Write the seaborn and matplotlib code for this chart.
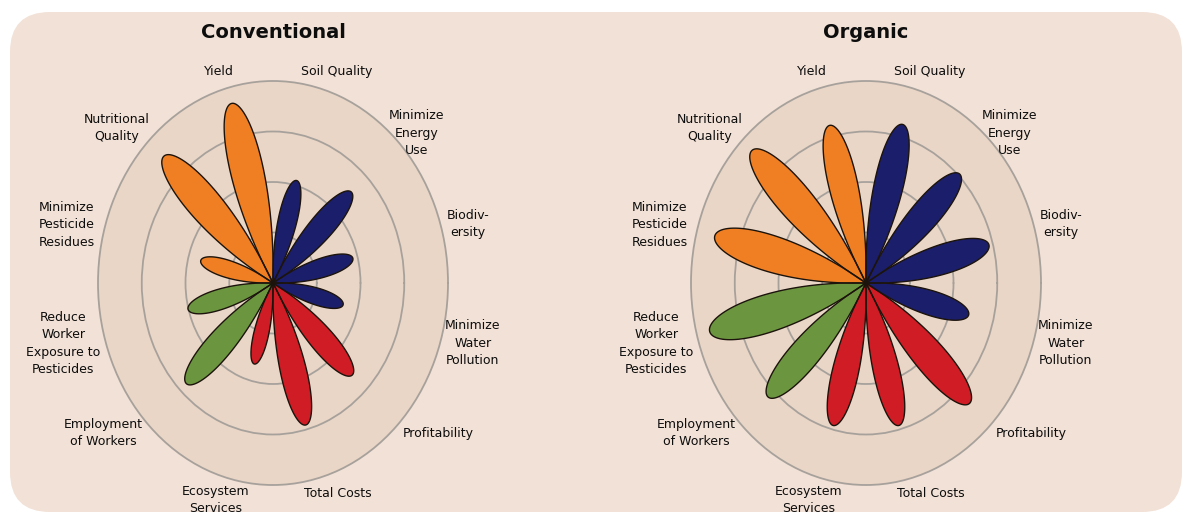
import numpy as np
import pandas as pd
import seaborn as sns
import matplotlib.pyplot as plt
from matplotlib.patches import FancyBboxPatch

# categories, clockwise starting from Yield (at 105 deg)
categories = ["Yield", "Soil Quality", "Minimize\nEnergy\nUse", "Biodiv-\nersity",
              "Minimize\nWater\nPollution", "Profitability", "Total Costs",
              "Ecosystem\nServices", "Employment\nof Workers",
              "Reduce\nWorker\nExposure to\nPesticides",
              "Minimize\nPesticide\nResidues", "Nutritional\nQuality"]
groups = ["production", "environment", "environment", "environment", "environment",
          "economic", "economic", "economic", "social", "social",
          "production", "production"]
conventional = [3.68, 2.10, 2.54, 1.89, 1.66, 2.57, 2.91, 1.66, 2.81, 2.01, 1.71, 3.54]
organic = [3.23, 3.25, 3.04, 2.91, 2.43, 3.36, 2.92, 2.92, 3.18, 3.70, 3.58, 3.70]
systems = ["Conventional", "Organic"]

group_colors = {"production": "#f07f24", "environment": "#1b1e6b",
                "economic": "#d01c25", "social": "#6b963f"}
BG = "#f2e1d6"
DISK = "#ead6c7"
RING = "#a7a19c"

# label placement (angle deg, radius) around the disk
label_pos = [(106.5, 4.36), (70.7, 4.43), (42.1, 4.43), (14.7, 4.61), (-14.6, 4.72),
             (-38.4, 4.81), (-70.3, 4.42), (-106.9, 4.49), (-142.6, 4.89),
             (-166.0, 4.94), (166.3, 4.85), (139.3, 4.70)]

sns.set_theme(style="white")
plt.rcParams["font.family"] = ["DejaVu Sans"]

W, H = 1184, 515
fig = plt.figure(figsize=(W / 100, H / 100), dpi=100)
fig.patch.set_facecolor("white")

# rounded panel behind everything
bg = fig.add_axes([0, 0, 1, 1])
bg.set_xlim(0, W)
bg.set_ylim(0, H)
bg.axis("off")
bg.add_patch(FancyBboxPatch((10, 3), 1172, 500, boxstyle="round,pad=0,rounding_size=40",
                            facecolor=BG, edgecolor="none"))

angles = np.deg2rad(105 - 30 * np.arange(len(categories)))
K = 5.5  # petal narrowness


def petal_frame(values):
    rows = []
    for cat, grp, th0, L in zip(categories, groups, angles, values):
        phi = np.linspace(-np.pi / (2 * K), np.pi / (2 * K), 120)
        r = L * np.cos(K * phi)
        for t, rr in zip(th0 + phi, r):
            rows.append({"category": cat, "group": grp, "theta": t, "r": rr})
    return pd.DataFrame(rows)


centers_x = [273, 866]
for sys_name, values, cx in zip(systems, [conventional, organic], centers_x):
    rx, ry = 175, 202
    ax = fig.add_axes([(cx - rx) / W, (H - 283 - ry) / H, 2 * rx / W, 2 * ry / H],
                      projection="polar")
    ax.set_aspect("auto")
    ax.set_facecolor(DISK)

    df = petal_frame(values)
    for cat, part in df.groupby("category", sort=False):
        ax.fill(part["theta"], part["r"], color=group_colors[part["group"].iloc[0]],
                zorder=3, linewidth=0)
    sns.lineplot(data=df, x="theta", y="r", units="category", estimator=None, sort=False,
                 color="#1c140c", linewidth=1.0, ax=ax, zorder=4)

    ax.set_ylim(0, 4)
    ax.set_yticks([1, 2, 3])
    ax.set_yticklabels([])
    ax.set_xticks([])
    ax.grid(True, axis="y", color=RING, linewidth=1.3)
    ax.grid(False, axis="x")
    ax.spines["polar"].set_color(RING)
    ax.spines["polar"].set_linewidth(1.3)
    ax.set_xlabel("")
    ax.set_ylabel("")

    for lab, (a, rad) in zip(categories, label_pos):
        ax.text(np.deg2rad(a), rad, lab, ha="center", va="center", fontsize=9,
                color="#0d0d0d", linespacing=1.45)

    ax.text(0.5, 1.119, sys_name, transform=ax.transAxes, ha="center", va="center",
            fontsize=14, fontweight="bold", color="#0d0d0d")

fig.savefig("out.png", dpi=100, facecolor="white")
